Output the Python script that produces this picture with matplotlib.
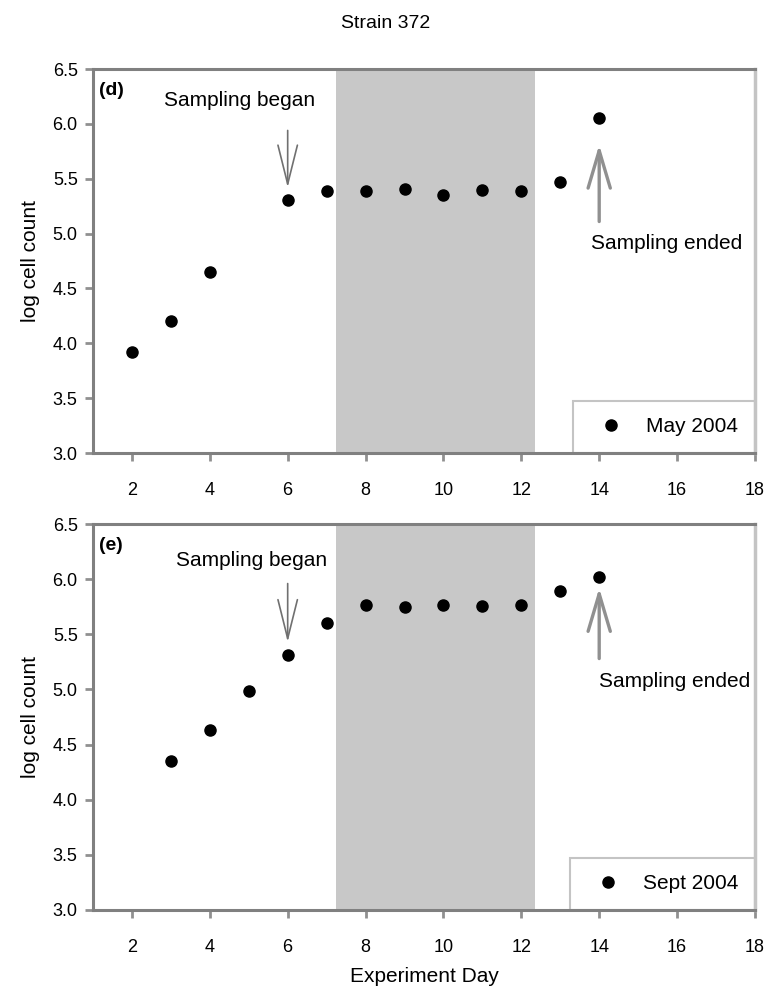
import numpy as np
import matplotlib
matplotlib.use("Agg")
import matplotlib.pyplot as plt

plt.rcParams['font.family'] = ['Liberation Sans', 'DejaVu Sans']

# Datos (log del conteo de celulas por dia)
days_may = [2, 3, 4, 6, 7, 8, 9, 10, 11, 12, 13, 14]
log_may = [3.92, 4.20, 4.65, 5.31, 5.39, 5.39, 5.41, 5.35, 5.40, 5.39, 5.47, 6.05]

days_sept = [3, 4, 5, 6, 7, 8, 9, 10, 11, 12, 13, 14]
log_sept = [4.35, 4.63, 4.99, 5.31, 5.60, 5.77, 5.75, 5.77, 5.76, 5.77, 5.89, 6.02]

panel_labels = ['(d)', '(e)']
legend_labels = ['May 2004', 'Sept 2004']
x_ticks = [2, 4, 6, 8, 10, 12, 14, 16, 18]
y_ticks = [3.0, 3.5, 4.0, 4.5, 5.0, 5.5, 6.0, 6.5]

# periodo sombreado (dias)
shade_start, shade_end = 7.25, 12.35

fig = plt.figure(figsize=(7.71, 9.93), dpi=100)
ax1 = fig.add_axes([0.1206, 0.5438, 0.8586, 0.3867])
ax2 = fig.add_axes([0.1206, 0.0836, 0.8586, 0.3887])

fig.text(0.5, 0.976, 'Strain 372', ha='center', va='center', fontsize=14)

# posiciones de textos y flechas: (texto began, texto ended, flecha began, flecha ended)
notes = [
    dict(began=(4.76, 6.21), ended=(15.72, 4.91),
         arr_b=((6, 5.94), (6, 5.42)), arr_e=((14, 5.11), (14, 5.81))),
    dict(began=(5.08, 6.17), ended=(15.93, 5.07),
         arr_b=((6, 5.96), (6, 5.43)), arr_e=((14, 5.28), (14, 5.92))),
]

for ax, x, y, lab, leg, nt in zip([ax1, ax2], [days_may, days_sept],
                                  [log_may, log_sept], panel_labels,
                                  legend_labels, notes):
    ax.axvspan(shade_start, shade_end, color='#c8c8c8', lw=0, zorder=0)
    ax.plot(x, y, 'o', color='black', markersize=8, label=leg, zorder=4)

    ax.set_xlim(1, 18)
    ax.set_ylim(3.0, 6.5)
    ax.set_xticks(x_ticks)
    ax.set_yticks(y_ticks)
    ax.set_yticklabels([f'{v:.1f}' for v in y_ticks])
    ax.tick_params(axis='x', direction='out', length=6, width=2,
                   color='#909090', labelsize=13, pad=15)
    ax.tick_params(axis='y', direction='out', length=6, width=2,
                   color='#909090', labelsize=13, pad=5)

    for s in ['left', 'bottom', 'top']:
        ax.spines[s].set_color('#808080')
        ax.spines[s].set_linewidth(2.2)
    ax.spines['right'].set_color('#c4c4c4')
    ax.spines['right'].set_linewidth(2.5)

    ax.set_ylabel('log cell count', fontsize=15, labelpad=9)

    ax.text(1.15, 6.38, lab, ha='left', va='top', fontsize=14,
            fontweight='bold')
    ax.text(*nt['began'], 'Sampling began', ha='center', va='center',
            fontsize=15)
    ax.text(*nt['ended'], 'Sampling ended', ha='center', va='center',
            fontsize=15)

    ax.annotate('', xy=nt['arr_b'][1], xytext=nt['arr_b'][0],
                arrowprops=dict(arrowstyle='->,head_length=2.8,head_width=0.7',
                                color='#707070', lw=1.2,
                                shrinkA=0, shrinkB=0))
    ax.annotate('', xy=nt['arr_e'][1], xytext=nt['arr_e'][0],
                arrowprops=dict(arrowstyle='->,head_length=2.7,head_width=0.8',
                                color='#909090', lw=2.4,
                                shrinkA=0, shrinkB=0))

    lg = ax.legend(loc='lower right', borderaxespad=0, fontsize=15,
                   frameon=True, fancybox=False, framealpha=1,
                   edgecolor='#c4c4c4', handlelength=2.0,
                   handletextpad=0.7, borderpad=0.8)
    lg.get_frame().set_linewidth(1.5)
    lg.set_zorder(2)

ax2.set_xlabel('Experiment Day', fontsize=15, labelpad=8)

fig.savefig('out.png', dpi=100)
